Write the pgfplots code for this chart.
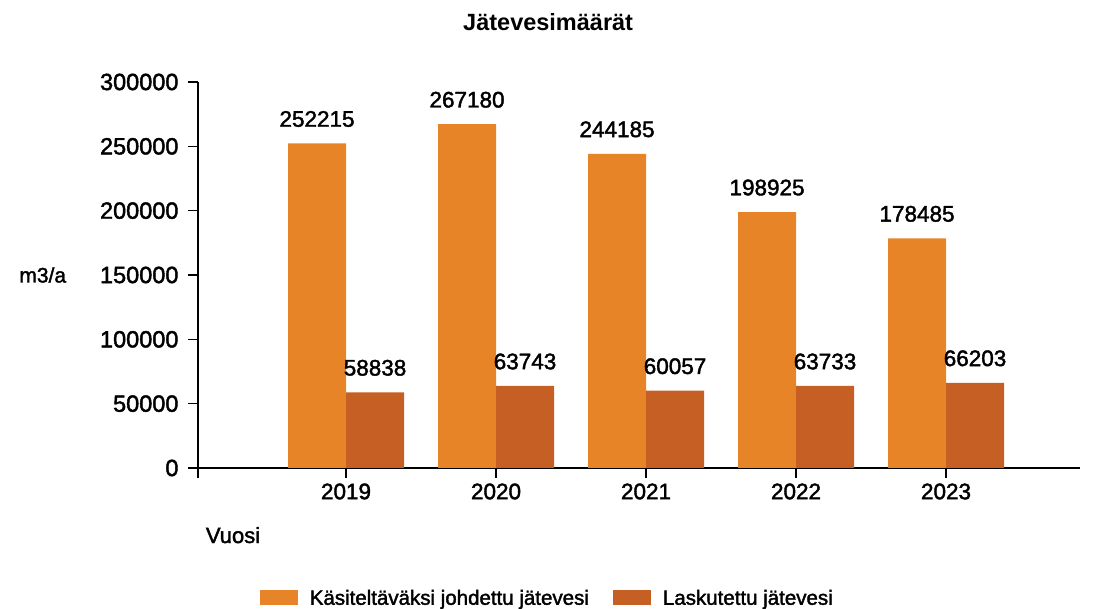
\documentclass[border=0pt]{standalone}
\usepackage{pgfplots}
\pgfplotsset{compat=1.18}
\usepackage{fontspec}
\setmainfont{Liberation Sans}[BoldFont={Liberation Sans}, BoldFeatures={FakeBold=1.8}]
\newfontfamily\titlefont{Liberation Sans}
\definecolor{c1}{RGB}{232,132,40}
\definecolor{c2}{RGB}{198,95,36}
\begin{document}
\begin{tikzpicture}
\path[use as bounding box] (0,0) rectangle (1096pt,609pt);
\begin{axis}[
  at={(198pt,141pt)}, anchor=south west, scale only axis,
  width=882pt, height=386pt,
  xmin=-0.987, xmax=4.893, ymin=0, ymax=300000,
  axis lines=left, axis line style={-, line width=1.2pt, black},
  every tick/.style={line width=1.2pt, black},
  tick align=outside, major tick length=10pt,
  ytick={0,50000,100000,150000,200000,250000,300000},
  yticklabels={0,50000,100000,150000,200000,250000,300000},
  xtick={0,1,2,3,4}, xticklabels={2019,2020,2021,2022,2023},
  extra x ticks={-0.987}, extra x tick style={xticklabel={}},
  scaled y ticks=false,
  yticklabel style={font=\bfseries\fontsize{23.5}{26}\selectfont, xshift=-6pt},
  xticklabel style={font=\bfseries\fontsize{22.5}{25}\selectfont, yshift=-2pt},
  ybar=0pt, bar width=58pt,
  point meta=explicit symbolic,
  nodes near coords,
  nodes near coords style={font=\bfseries\fontsize{22.5}{25}\selectfont, black, yshift=13pt},
  title={Jätevesimäärät},
  title style={at={(0.397,1.14)}, anchor=center, font=\titlefont\bfseries\fontsize{23.5}{26}\selectfont},
  xlabel={Vuosi},
  xlabel style={at={(0.0397,-0.174)}, anchor=center, font=\bfseries\fontsize{22}{24}\selectfont},
  ylabel={m3/a},
  ylabel style={rotate=-90, at={(-0.176,0.5)}, anchor=center, font=\bfseries\fontsize{21}{24}\selectfont},
  legend columns=2,
  legend style={draw=none, at={(0.396,-0.337)}, anchor=center,
    font=\bfseries\fontsize{20.5}{22}\selectfont,
    /tikz/every even column/.append style={column sep=22pt}},
  legend image code/.code={\path[#1,draw=none] (0pt,-7pt) rectangle (38pt,8pt); \path (48pt,0pt);},
]
\addplot[fill=c1, draw=none] coordinates {
  (0,252215) [252215]
  (1,267180) [267180]
  (2,244185) [244185]
  (3,198925) [198925]
  (4,178485) [178485]
};
\addplot[fill=c2, draw=none] coordinates {
  (0,58838) [58838]
  (1,63743) [63743]
  (2,60057) [60057]
  (3,63733) [63733]
  (4,66203) [66203]
};
\legend{Käsiteltäväksi johdettu jätevesi, Laskutettu jätevesi}
\end{axis}
\end{tikzpicture}
\end{document}
